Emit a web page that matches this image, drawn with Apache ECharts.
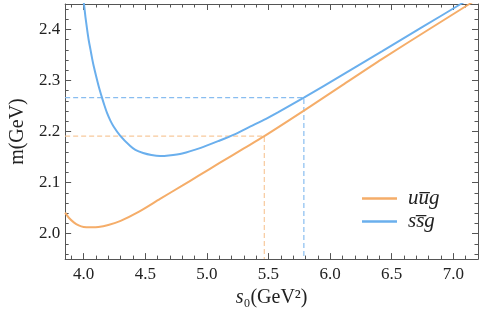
<!DOCTYPE html>
<html><head><meta charset="utf-8">
<script src="https://cdn.jsdelivr.net/npm/echarts@6/dist/echarts.min.js"></script>
<style>html,body{margin:0;padding:0;background:#fff}#c{width:482px;height:313px}</style>
</head><body><div id="c"></div>
<script>
// ---- data ----
const xMin = 3.85, xMax = 7.2;
const yMin = 1.95, yMax = 2.45;
const uubarName = 'uu\u0305g';
const ssbarName = 'ss\u0305g';
const uubarS = [3.85, 3.88, 3.92, 3.96, 4.00, 4.06, 4.12, 4.20, 4.30, 4.45, 4.62, 4.80, 4.93, 5.10, 5.30, 5.466, 5.80, 6.10, 6.42, 6.80, 7.13, 7.20];
const uubarM = [2.041, 2.031, 2.022, 2.016, 2.013, 2.0125, 2.013, 2.017, 2.025, 2.043, 2.068, 2.094, 2.113, 2.138, 2.167, 2.191, 2.243, 2.291, 2.342, 2.400, 2.450, 2.461];
const ssbarS = [3.99, 4.002, 4.015, 4.029, 4.042, 4.056, 4.069, 4.082, 4.102, 4.122, 4.149, 4.169, 4.189, 4.216, 4.243, 4.296, 4.376, 4.42, 4.483, 4.55, 4.62, 4.69, 4.80, 4.95, 5.10, 5.22, 5.354, 5.48, 5.58, 5.787, 6.10, 6.42, 6.75, 7.06, 7.20];
const ssbarM = [2.47, 2.451, 2.424, 2.399, 2.378, 2.360, 2.343, 2.328, 2.308, 2.289, 2.2665, 2.251, 2.237, 2.222, 2.210, 2.192, 2.172, 2.164, 2.158, 2.154, 2.152, 2.153, 2.157, 2.168, 2.182, 2.194, 2.210, 2.225, 2.238, 2.2665, 2.311, 2.357, 2.405, 2.450, 2.471];
const uubarMark = [5.466, 2.191];
const ssbarMark = [5.787, 2.2665];

const orange = '#f5ad69', blue = '#6aafed';
const orangeDash = '#f8c99c', blueDash = '#88bdf0';
const FONT = 'Liberation Serif';
const frame = '#555';

function pairs(xs, ys) { return xs.map((x, i) => [x, ys[i]]); }

function xAxisMajor(pos, showLabel) {
  return {
    type: 'value', position: pos, min: xMin, max: xMax,
    axisLine: { show: true, onZero: false, lineStyle: { color: frame, width: 1 } },
    axisTick: { show: true, inside: true, length: 6, lineStyle: { color: frame, width: 1 } },
    axisLabel: { show: showLabel, showMinLabel: false, showMaxLabel: false, margin: 7,
      fontSize: 17, color: '#222', fontFamily: FONT, formatter: v => v.toFixed(1) },
    splitLine: { show: false },
    name: showLabel ? '{i|s}\u2080(GeV\u00b2)' : '', nameLocation: 'middle', nameGap: 24,
    nameTextStyle: { fontSize: 20, color: '#222', fontFamily: FONT,
      rich: { i: { fontStyle: 'italic', fontSize: 20, fontFamily: FONT, color: '#222' } } }
  };
}
function xAxisMinor(pos) {
  return {
    type: 'value', position: pos, min: xMin, max: xMax, splitNumber: 33,
    axisLine: { show: false, onZero: false },
    axisTick: { show: true, inside: true, length: 3.5, lineStyle: { color: frame, width: 1 } },
    axisLabel: { show: false }, splitLine: { show: false }
  };
}
function yAxisMajor(pos, showLabel) {
  return {
    type: 'value', position: pos, min: yMin, max: yMax,
    axisLine: { show: true, onZero: false, lineStyle: { color: frame, width: 1 } },
    axisTick: { show: true, inside: true, length: 6, lineStyle: { color: frame, width: 1 } },
    axisLabel: { show: showLabel, showMinLabel: false, showMaxLabel: false, margin: 5,
      fontSize: 17, color: '#222', fontFamily: FONT, formatter: v => v.toFixed(1) },
    splitLine: { show: false },
    name: showLabel ? 'm(GeV)' : '', nameLocation: 'middle', nameGap: 32,
    nameTextStyle: { fontSize: 20, color: '#222', fontFamily: FONT }
  };
}
function yAxisMinor(pos) {
  return {
    type: 'value', position: pos, min: yMin, max: yMax, splitNumber: 25,
    axisLine: { show: false, onZero: false },
    axisTick: { show: true, inside: true, length: 3.5, lineStyle: { color: frame, width: 1 } },
    axisLabel: { show: false }, splitLine: { show: false }
  };
}

const chart = echarts.init(document.getElementById('c'));
chart.setOption({
  animation: false,
  backgroundColor: '#fff',
  textStyle: { fontFamily: FONT },
  grid: { left: 59, right: 4, top: 4, bottom: 52 },
  xAxis: [xAxisMajor('bottom', true), xAxisMinor('bottom'), xAxisMajor('top', false), xAxisMinor('top')],
  yAxis: [yAxisMajor('left', true), yAxisMinor('left'), yAxisMajor('right', false), yAxisMinor('right')],
  legend: {
    data: [uubarName, ssbarName], orient: 'vertical', left: 357, top: 183,
    icon: 'rect', itemWidth: 35, itemHeight: 2.5, itemGap: 2,
    textStyle: { fontSize: 21, fontStyle: 'italic', fontFamily: FONT, color: '#222', padding: [0, 0, 0, 6] }
  },
  series: [
    { name: 'uDash', type: 'line', symbol: 'none', silent: true, z: 1,
      data: [[xMin, uubarMark[1]], uubarMark, [uubarMark[0], yMin]],
      lineStyle: { color: orangeDash, width: 1.2, type: [5, 3] } },
    { name: 'sDash', type: 'line', symbol: 'none', silent: true, z: 1,
      data: [[xMin, ssbarMark[1]], ssbarMark, [ssbarMark[0], yMin]],
      lineStyle: { color: blueDash, width: 1.2, type: [5, 3] } },
    { name: uubarName, type: 'line', symbol: 'none', smooth: 0.25, clip: true, z: 3,
      data: pairs(uubarS, uubarM), color: orange, lineStyle: { color: orange, width: 2 } },
    { name: ssbarName, type: 'line', symbol: 'none', smooth: 0.25, clip: true, z: 3,
      data: pairs(ssbarS, ssbarM), color: blue, lineStyle: { color: blue, width: 2 } }
  ]
});
</script></body></html>
